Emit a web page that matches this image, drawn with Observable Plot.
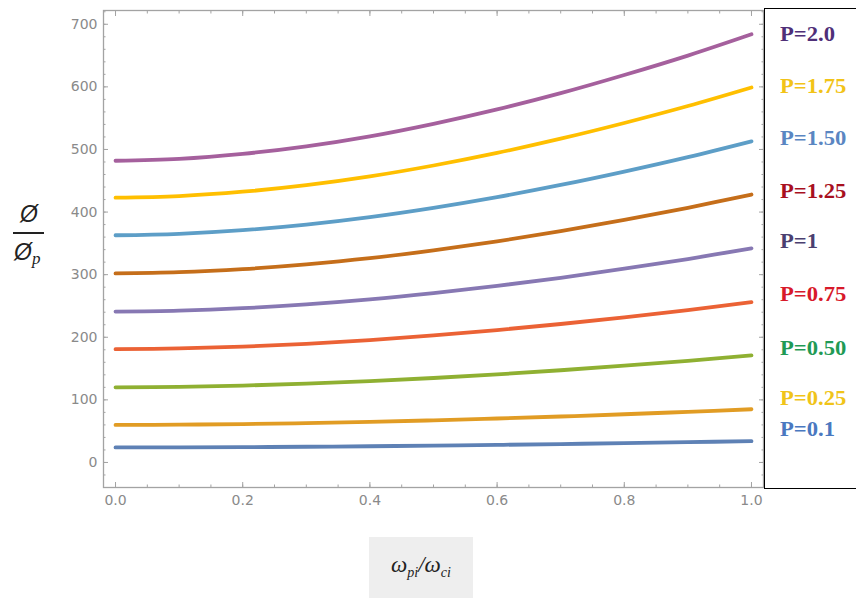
<!DOCTYPE html>
<html><head><meta charset="utf-8">
<script src="https://cdn.jsdelivr.net/npm/d3@7"></script>
<script src="https://cdn.jsdelivr.net/npm/@observablehq/plot@0.6"></script>
<style>
body{margin:0;background:#fff;}
#wrap{position:relative;width:856px;height:598px;overflow:hidden;background:#fff;}
#wrap svg{position:absolute;left:0;top:0;}
.abs{position:absolute;white-space:nowrap;}
#legend{position:absolute;left:764px;top:8px;width:110px;height:481px;border:1.5px solid #000;background:#fff;box-sizing:border-box;}
.leg{position:absolute;left:15px;font-family:"Liberation Serif","Times New Roman",serif;font-weight:bold;font-size:20px;line-height:22px;transform:scaleX(1.13);transform-origin:left center;}
#xlab{position:absolute;left:369px;top:537px;width:104px;height:61px;background:#eeeeee;font-family:"Liberation Serif",serif;font-style:italic;font-size:23px;color:#222;text-align:center;line-height:56px;}
#xlab sub{font-size:14px;vertical-align:-5px;line-height:0;}
.phi{font-family:"Liberation Sans",sans-serif;font-style:italic;font-size:23px;color:#222;line-height:22px;}
</style></head><body><div id="wrap"></div>
<script>
// x values (omega_pi / omega_ci)
const xValues = [0, 0.1, 0.2, 0.3, 0.4, 0.5, 0.6, 0.7, 0.8, 0.9, 1.0];
// series
const yP0_1  = [24, 24.2, 24.5, 25.1, 25.9, 26.9, 28.1, 29.4, 30.9, 32.4, 34.1];
const yP0_25 = [60, 60.4, 61.3, 62.8, 64.8, 67.3, 70.2, 73.4, 77, 80.9, 85];
const yP0_50 = [120, 120.8, 122.8, 125.8, 129.8, 134.9, 140.7, 147.3, 154.6, 162.4, 171];
const yP0_75 = [181, 182.1, 185, 189.5, 195.5, 202.9, 211.5, 221.2, 231.9, 243.5, 256];
const yP1    = [241, 242.5, 246.4, 252.5, 260.5, 270.5, 282, 295, 309.5, 325, 342];
const yP1_25 = [302, 303.9, 308.8, 316.4, 326.3, 338.8, 353.2, 369.4, 387.4, 406.8, 428];
const yP1_50 = [363, 365.3, 371.1, 380.1, 392, 406.8, 423.9, 443.3, 464.7, 487.8, 513];
const yP1_75 = [423, 425.6, 432.5, 443, 457, 474.4, 494.5, 517.2, 542.3, 569.4, 599];
const yP2_0  = [482, 485, 493, 505, 521, 541, 564, 590, 619, 650, 684];
const seriesNames = ["P=0.1","P=0.25","P=0.50","P=0.75","P=1","P=1.25","P=1.50","P=1.75","P=2.0"];
const seriesValues = [yP0_1, yP0_25, yP0_50, yP0_75, yP1, yP1_25, yP1_50, yP1_75, yP2_0];
const lineColors = ["#5E81B5","#E19C24","#8FB032","#EB6235","#8778B3","#C56E1A","#5D9EC7","#FFBF00","#A5609D"];
// legend (top to bottom)
const legendLabels = ["P=2.0","P=1.75","P=1.50","P=1.25","P=1","P=0.75","P=0.50","P=0.25","P=0.1"];
const legendColors = ["#4f2f78","#f2c318","#5a86c2","#a8101f","#4b3f70","#d8192a","#1f9a55","#f0c419","#4a78c0"];
const xTicks = [0, 0.2, 0.4, 0.6, 0.8, 1.0];
const yTicks = [0, 100, 200, 300, 400, 500, 600, 700];

// layout constants
const legendCenters = [33, 85, 137, 190, 240, 293, 347, 397, 428];

const rows = [];
seriesValues.forEach((vals, i) => vals.forEach((v, j) => rows.push({x: xValues[j], y: v, p: seriesNames[i], c: lineColors[i]})));

const minorX = d3.range(0, 1.0001, 0.05);
const minorY = d3.range(-40, 721, 20);
const gray = "#a3a3a3";
const txt = "#8a8a8a";
const font = {fontSize: 14, fontFamily: "DejaVu Sans, sans-serif"};

const chart = Plot.plot({
  width: 856, height: 598,
  marginLeft: 103, marginRight: 93, marginTop: 10, marginBottom: 111,
  x: {domain: [-0.0189, 1.0189]},
  y: {domain: [-40, 722]},
  color: {type: "identity"},
  style: {background: "transparent"},
  marks: [
    Plot.frame({stroke: gray, strokeWidth: 1.3}),
    Plot.axisX(xTicks, {anchor: "bottom", tickSize: -5, tickPadding: 13, tickFormat: d3.format(".1f"), stroke: gray, fill: txt, label: null, ...font}),
    Plot.axisX(minorX, {anchor: "bottom", tickSize: -2.5, stroke: gray, fill: "none", label: null}),
    Plot.axisX(xTicks, {anchor: "top", tickSize: -5, stroke: gray, fill: "none", label: null}),
    Plot.axisX(minorX, {anchor: "top", tickSize: -2.5, stroke: gray, fill: "none", label: null}),
    Plot.axisY(yTicks, {anchor: "left", tickSize: -5, tickPadding: 11, stroke: gray, fill: txt, label: null, ...font}),
    Plot.axisY(minorY, {anchor: "left", tickSize: -2.5, stroke: gray, fill: "none", label: null}),
    Plot.axisY(yTicks, {anchor: "right", tickSize: -5, stroke: gray, fill: "none", label: null}),
    Plot.axisY(minorY, {anchor: "right", tickSize: -2.5, stroke: gray, fill: "none", label: null}),
    Plot.line(rows, {x: "x", y: "y", z: "p", stroke: "c", strokeWidth: 3.8, curve: "catmull-rom"})
  ]
});

const wrap = document.getElementById("wrap");
wrap.appendChild(chart);

// legend box
const leg = document.createElement("div");
leg.id = "legend";
legendLabels.forEach((t, i) => {
  const s = document.createElement("div");
  s.className = "leg";
  s.textContent = t;
  s.style.color = legendColors[i];
  s.style.top = (legendCenters[i] - 8 - 11) + "px";
  leg.appendChild(s);
});
wrap.appendChild(leg);

// x label
const xl = document.createElement("div");
xl.id = "xlab";
xl.innerHTML = "ω<sub>pi</sub>/ω<sub>ci</sub>";
wrap.appendChild(xl);

// y label (fraction)
const phiTop = document.createElement("div");
phiTop.className = "abs phi"; phiTop.textContent = "Ø";
phiTop.style.left = "20px"; phiTop.style.top = "203px";
wrap.appendChild(phiTop);
const bar = document.createElement("div");
bar.className = "abs"; bar.style.left = "13px"; bar.style.top = "232px";
bar.style.width = "31px"; bar.style.height = "1.6px"; bar.style.background = "#222";
wrap.appendChild(bar);
const phiBot = document.createElement("div");
phiBot.className = "abs phi"; phiBot.textContent = "Ø";
phiBot.style.left = "14px"; phiBot.style.top = "241px";
wrap.appendChild(phiBot);
const sub = document.createElement("div");
sub.className = "abs"; sub.textContent = "p";
sub.style.cssText += "left:32px;top:249px;font-family:'Liberation Serif',serif;font-style:italic;font-size:17px;color:#222;";
wrap.appendChild(sub);
</script></body></html>
